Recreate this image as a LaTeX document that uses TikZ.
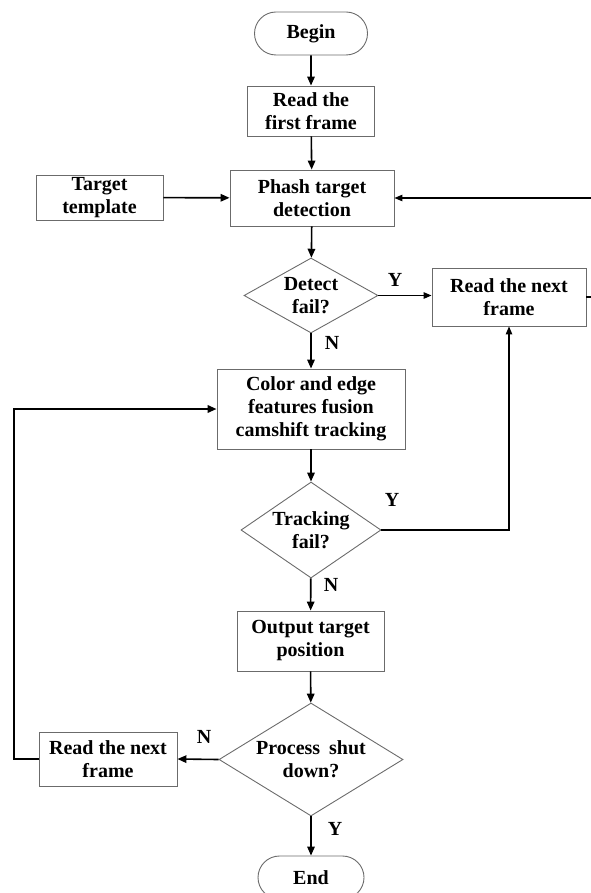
\documentclass[tikz,border=0pt]{standalone}
\usepackage{fontspec}
\setmainfont{Liberation Serif}
\usetikzlibrary{arrows.meta,shapes.geometric,shapes.misc}
\definecolor{bordergray}{gray}{0.42}
\tikzset{
  txt/.style={font=\bfseries\fontsize{20}{23}\selectfont, align=center},
  procbox/.style={txt, draw=bordergray, line width=0.9pt, rectangle, inner sep=0pt},
  termbox/.style={txt, draw=bordergray, line width=0.9pt, rounded rectangle, inner sep=0pt},
  decbox/.style={draw=bordergray, line width=0.9pt, diamond, inner sep=0pt},
  arr/.style={-{Triangle[length=9pt,width=7.5pt]}, line width=1.6pt, black},
  thinarr/.style={-{Triangle[length=8pt,width=6.5pt]}, line width=1.1pt, black},
  lbl/.style={txt, inner sep=0pt},
}
\begin{document}
\begin{tikzpicture}[x=1pt,y=-1pt]
\useasboundingbox (0,0) rectangle (590,893);
% nodes
\node[termbox, minimum width=113pt, minimum height=43pt] (begin) at (311,33.5) {Begin};
\node[procbox, minimum width=127pt, minimum height=50pt] (r1) at (311,111) {Read the\\first frame};
\node[procbox, minimum width=127pt, minimum height=45pt] (tt) at (99.5,197.5) {Target\\template};
\node[procbox, minimum width=164pt, minimum height=56pt] (ph) at (312,198) {Phash target\\detection};
\node[decbox, minimum width=134pt, minimum height=75pt,
      label={[txt]center:Detect\\fail?}] (d1) at (311,295.5) {};
\node[procbox, minimum width=154pt, minimum height=58pt] (rn1) at (509,297) {Read the next\\frame};
\node[procbox, minimum width=188pt, minimum height=80pt] (cf) at (311,409) {Color and edge\\features fusion\\camshift tracking};
\node[decbox, minimum width=140pt, minimum height=96pt,
      label={[txt]center:Tracking\\fail?}] (d2) at (311,530) {};
\node[procbox, minimum width=147pt, minimum height=60pt] (op) at (310.5,641) {Output target\\position};
\node[decbox, minimum width=184pt, minimum height=113pt,
      label={[txt]center:Process\hspace{0.45em}shut\\down?}] (d3) at (311,759.5) {};
\node[procbox, minimum width=138pt, minimum height=54pt] (rn2) at (108,759) {Read the next\\frame};
\node[termbox, minimum width=106pt, minimum height=43pt] (end) at (311,877.5) {End};
% helper coordinates
\coordinate (rx) at (602,0);
\coordinate (lx) at (14,0);
% connectors
\draw[arr] (begin) -- (r1);
\draw[arr] (r1) -- (ph);
\draw[arr] (ph) -- (d1);
\draw[arr] (tt) -- (ph);
\draw[thinarr] (d1.east) -- (d1.east -| rn1.west);
\draw[thinarr] (rn1.east) -- (rn1.east -| rx) |- (ph.east);
\draw[arr] (d1) -- (cf);
\draw[arr] (cf) -- (d2);
\draw[thinarr] (d2.east) -| (rn1.south);
\draw[arr] (d2) -- (op);
\draw[arr] (op) -- (d3);
\draw[arr] (d3) -- (end);
\draw[arr] (d3.west) -- (rn2.east);
\draw[arr, line width=2pt] (rn2.west) -- (rn2.west -| lx) |- (cf.west);
% branch labels
\node[lbl] (y1) at (395,280) {Y};
\node[lbl] (n1) at (332,343) {N};
\node[lbl] (y2) at (392,500) {Y};
\node[lbl] (n2) at (331,585) {N};
\node[lbl] (n3) at (204,737) {N};
\node[lbl] (y3) at (335,829) {Y};
\end{tikzpicture}
\end{document}
